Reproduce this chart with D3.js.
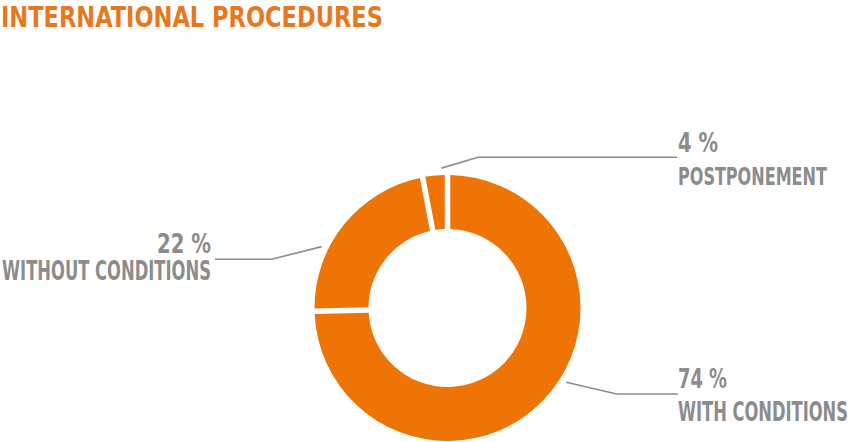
<!DOCTYPE html>
<html>
<head>
<meta charset="utf-8">
<script src="https://cdn.jsdelivr.net/npm/d3@7"></script>
<style>
  html, body { margin: 0; padding: 0; background: #fff; }
  svg { display: block; }
  text { font-family: "Liberation Sans Narrow", "DejaVu Sans Condensed", "Liberation Sans", sans-serif; font-weight: bold; }
</style>
</head>
<body>
<svg id="chart" width="850" height="442"></svg>
<script>
// ---- data ----
const title = "INTERNATIONAL PROCEDURES";
const categories = ["WITH CONDITIONS", "WITHOUT CONDITIONS", "POSTPONEMENT"];
const values = [74.6, 22.4, 3.0];           // arc sizes
const valueLabels = ["74 %", "22 %", "4 %"]; // labels as printed

// ---- layout / style ----
const W = 850, H = 442;
const cx = 447.5, cy = 308, rOuter = 133, rInner = 79;
const sliceColor = "#EE7406";
const titleColor = "#E8781F";
const labelColor = "#8C8C8C";
const lineColor = "#8C8C8C";
const capRatio = 0.729;

const labelLayout = [
  { angle: 122, elbow: [616.7, 394], end: [678, 394], anchor: "start", x: 678, pctY: 388, pctW: 49, pctCap: 20, nameY: 420.7, nameW: 170, nameCap: 19 },
  { angle: 296, elbow: [271.7, 259.3], end: [215, 259.3], anchor: "end", x: 211, pctY: 253.3, pctW: 54, pctCap: 20, nameY: 280, nameW: 209, nameCap: 19 },
  { angle: 357.5, elbow: [478, 157.3], end: [677, 157.3], anchor: "start", x: 678, pctY: 152, pctW: 40, pctCap: 20, nameY: 184.5, nameW: 149, nameCap: 18.5 }
];

const svg = d3.select("#chart");

// place text so its natural width equals targetW and its cap height equals targetCap
function fitText(str, x, y, anchor, targetW, targetCap, color) {
  const t = svg.append("text")
    .attr("font-size", 20)
    .attr("fill", color)
    .attr("text-anchor", anchor)
    .text(str);
  const w20 = t.node().getComputedTextLength();
  const fs = 20 * targetW / w20;
  const sy = targetCap / (capRatio * fs);
  t.attr("font-size", fs)
   .attr("transform", `translate(${x},${y}) scale(1,${sy})`);
  return t;
}

fitText(title, 1, 26.7, "start", 382, 20.7, titleColor);

const pie = d3.pie().sort(null).value(d => d).startAngle(0).endAngle(2 * Math.PI);
const arc = d3.arc().innerRadius(rInner).outerRadius(rOuter).padRadius(rOuter).padAngle(5.5 / rOuter);

const g = svg.append("g").attr("transform", `translate(${cx},${cy})`);
g.selectAll("path.slice")
  .data(pie(values))
  .join("path")
  .attr("class", "slice")
  .attr("d", arc)
  .attr("fill", sliceColor);

const line = d3.line();
labelLayout.forEach((L, i) => {
  const a = L.angle * Math.PI / 180;
  const r0 = rOuter + 7;
  const start = [cx + r0 * Math.sin(a), cy - r0 * Math.cos(a)];
  svg.append("path")
    .attr("d", line([start, L.elbow, L.end]))
    .attr("fill", "none")
    .attr("stroke", lineColor)
    .attr("stroke-width", 1.6);

  fitText(valueLabels[i], L.x, L.pctY, L.anchor, L.pctW, L.pctCap, labelColor);
  fitText(categories[i], L.x, L.nameY, L.anchor, L.nameW, L.nameCap, labelColor);
});
</script>
</body>
</html>
